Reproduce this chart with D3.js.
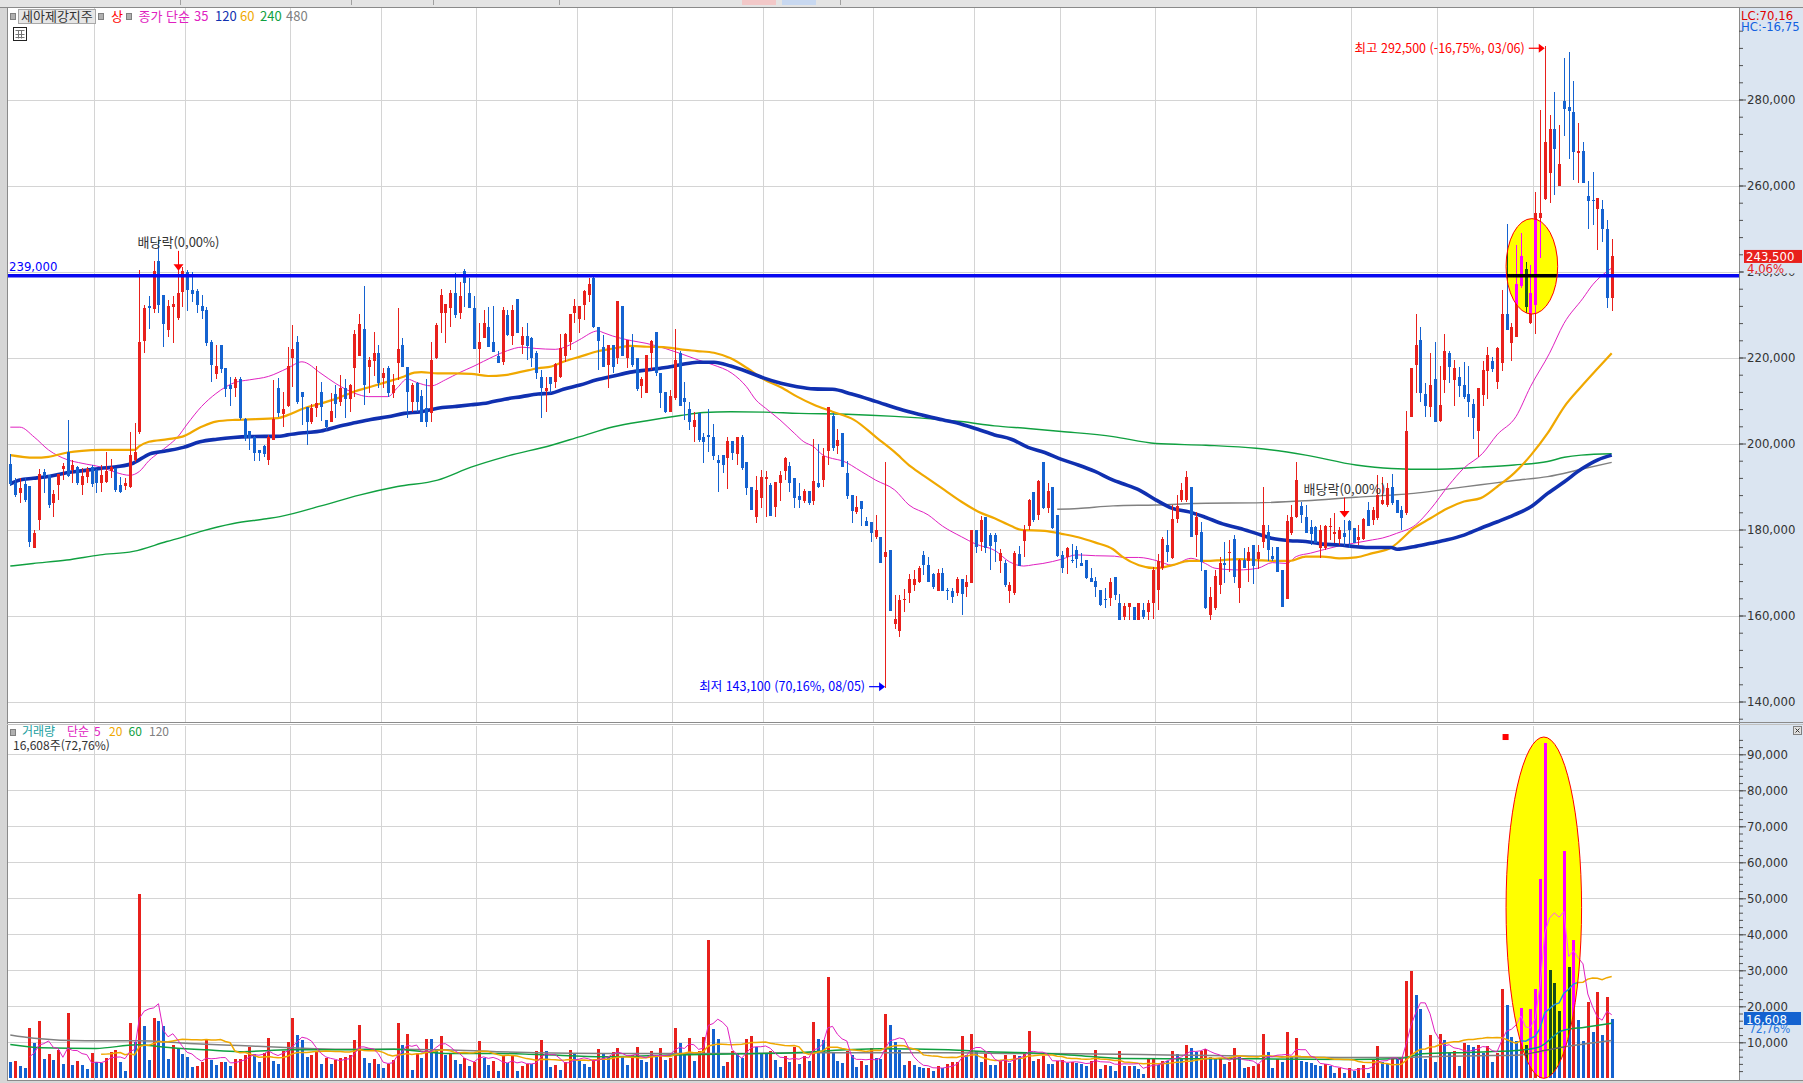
<!DOCTYPE html>
<html lang="ko">
<head>
<meta charset="UTF-8">
<title>세아제강지주 일봉</title>
<script src="https://cdn.jsdelivr.net/npm/d3@7/dist/d3.min.js"></script>
<style>
    html, body { margin: 0; padding: 0; background: #fff; overflow: hidden; }
    svg { display: block; }
</style>
</head>
<body>
<script>
    // daily candles, price in thousand won
    const opens = [
        195.2,190.7,188.4,190.6,190.1,175.6,182.1,193.3,192.7,186.2,
        190.4,194.0,198.1,193.8,194.6,190.4,192.3,194.6,193.8,190.9,
        191.0,193.7,194.3,190.3,190.1,189.8,196.2,202.7,223.9,232.0,
        231.3,242.4,234.5,226.5,231.8,229.1,235.3,240.0,235.8,235.5,
        232.0,231.0,223.7,216.2,222.9,217.5,213.6,212.8,214.9,205.8,
        202.8,201.6,198.5,199.4,196.2,200.9,212.8,206.9,208.7,220.0,
        223.6,211.9,208.6,204.9,208.3,211.9,205.5,204.9,211.5,209.7,
        212.9,210.3,217.5,220.3,226.6,217.9,219.3,221.1,215.3,217.6,
        211.8,218.8,222.9,217.9,209.7,214.1,211.1,208.2,207.0,219.9,
        230.4,230.4,231.4,235.1,230.4,240.1,235.0,231.4,221.9,224.5,
        227.1,223.6,220.4,219.0,230.0,225.0,233.6,222.9,225.0,224.5,
        221.1,215.5,212.1,215.4,214.4,215.4,220.4,223.5,230.4,228.9,
        232.2,234.5,238.5,227.0,222.4,218.3,222.9,220.0,232.0,220.0,
        222.5,220.0,213.4,211.8,221.0,225.9,216.3,211.9,207.4,210.5,
        221.0,210.5,208.0,203.9,207.0,201.6,202.0,201.6,196.2,197.3,
        196.7,200.6,197.6,201.6,195.6,190.0,183.0,187.4,191.8,190.4,
        185.3,190.9,193.6,194.8,191.9,187.8,186.7,189.0,186.7,190.9,
        191.4,198.3,206.5,199.4,202.4,193.2,188.0,184.1,186.6,182.0,
        181.8,178.2,178.2,173.7,175.2,158.0,156.5,163.6,165.3,167.0,
        167.9,174.1,171.8,169.7,165.7,169.8,166.0,165.6,165.2,168.4,
        166.6,167.6,179.9,177.2,183.0,178.7,178.7,172.7,172.3,165.6,
        165.3,174.3,177.4,180.8,188.8,183.4,195.7,184.9,189.9,183.4,
        174.1,173.7,172.9,175.2,172.3,172.9,168.7,168.0,165.9,163.8,
        164.0,169.0,162.8,159.6,162.0,162.0,158.9,161.3,160.9,162.8,
        165.9,171.0,176.4,173.3,182.4,186.9,186.9,189.8,178.7,179.5,
        170.6,160.1,161.7,167.1,172.3,174.5,177.9,166.3,172.9,172.7,
        176.4,173.1,177.2,179.5,173.9,176.0,170.6,163.8,179.1,183.0,
        185.5,183.0,180.5,180.5,175.8,175.8,180.7,179.0,177.7,179.1,
        182.0,180.3,177.6,177.7,184.5,182.2,182.6,185.9,185.7,190.0,
        186.9,184.6,183.8,206.2,218.3,224.1,211.5,208.4,215.0,205.3,
        214.8,221.0,214.8,215.4,213.6,211.5,209.3,202.8,211.3,216.9,
        219.2,214.4,218.8,230.1,223.3,224.8,236.6,240.5,228.0,232.2,
        252.4,256.8,263.0,273.1,260.0,279.7,278.2,277.2,267.5,268.1,
        257.6,256.6,254.5,254.5,250.0,233.8
    ];
    const highs = [
        197.6,191.9,191.9,191.9,190.1,179.9,194.0,194.0,192.7,189.2,
        193.0,195.5,205.5,196.1,194.8,194.2,194.6,195.0,194.0,195.0,
        198.1,196.3,194.4,192.3,191.9,202.7,204.7,240.4,232.2,234.2,
        242.5,247.3,234.5,233.4,234.2,244.8,241.1,240.3,239.9,235.9,
        234.5,231.8,224.1,222.9,223.0,217.5,215.5,215.5,215.5,205.9,
        202.8,201.7,198.6,199.6,202.0,214.8,215.2,212.0,222.5,227.6,
        225.0,211.9,208.6,209.3,218.0,214.4,205.5,211.8,213.6,215.9,
        214.9,213.8,226.5,230.1,236.6,220.2,226.0,222.9,217.5,218.0,
        216.2,231.4,224.5,217.9,214.0,214.4,212.4,214.9,223.7,228.1,
        235.9,232.4,235.7,239.6,237.6,240.5,238.6,234.2,228.1,231.0,
        231.7,232.0,221.4,231.7,231.1,232.2,233.6,227.2,228.1,224.7,
        221.4,217.1,215.5,215.4,218.8,225.5,225.8,230.1,233.6,232.0,
        235.8,238.5,239.0,227.0,225.2,222.9,222.9,233.1,232.0,224.1,
        225.5,220.0,215.4,220.6,224.1,225.9,216.3,211.9,212.4,226.6,
        221.4,214.2,209.7,207.4,207.0,202.4,208.0,204.5,197.3,197.3,
        201.6,200.6,201.6,202.0,195.6,190.0,192.5,193.8,193.5,190.7,
        191.1,193.5,196.9,195.8,191.9,190.9,189.4,189.0,201.0,199.9,
        198.9,208.6,207.0,203.3,202.4,196.0,188.0,187.8,186.6,182.8,
        181.8,183.4,178.2,195.7,175.2,164.8,164.8,166.1,169.6,170.6,
        171.6,175.0,173.7,169.8,170.8,171.0,166.3,166.3,169.0,168.4,
        169.4,179.9,180.0,183.1,183.0,179.1,179.1,175.4,172.9,167.9,
        174.9,176.2,181.1,187.0,188.8,191.5,195.7,190.7,189.9,183.4,
        174.9,176.0,176.6,176.2,174.5,172.9,171.0,169.0,165.9,166.3,
        168.7,169.0,165.0,162.8,163.0,162.0,163.0,162.8,163.6,171.3,
        174.4,178.2,179.9,185.7,188.0,190.7,193.7,189.8,184.1,181.8,
        170.6,166.7,170.6,173.7,177.2,177.6,178.7,173.1,175.6,176.0,
        176.4,176.4,190.0,181.0,176.0,176.0,170.6,183.4,185.7,195.8,
        186.5,185.7,182.2,180.8,181.0,181.0,182.6,183.8,180.5,182.2,
        182.2,180.3,181.0,182.6,186.5,185.3,192.7,192.3,190.7,192.9,
        186.9,185.5,207.6,217.6,230.1,227.2,214.1,221.0,223.7,218.0,
        225.5,221.6,219.4,217.7,219.0,218.0,210.3,212.8,219.3,222.5,
        220.2,222.5,235.7,251.0,228.0,246.2,248.9,242.1,241.5,258.5,
        277.6,292.5,276.4,281.8,274.1,289.6,291.1,284.2,274.5,270.2,
        261.0,263.2,257.0,256.6,252.0,247.5
    ];
    const lows = [
        190.1,187.6,186.1,186.5,176.0,175.6,179.9,188.4,184.9,183.0,
        186.9,191.5,192.3,190.7,190.4,188.0,190.7,190.0,188.4,188.8,
        190.8,191.9,188.8,188.4,189.2,189.6,195.8,202.2,221.0,226.6,
        230.3,230.4,222.4,224.7,223.4,228.7,231.8,230.7,233.0,230.3,
        228.9,222.7,214.4,214.9,216.5,210.9,208.7,210.9,205.5,200.6,
        198.5,196.0,196.0,196.9,195.0,200.9,206.2,203.9,208.6,213.2,
        209.3,204.3,199.6,204.5,206.2,205.3,203.2,204.9,205.9,208.7,
        205.9,207.4,210.9,220.3,209.0,211.7,215.8,212.8,212.8,210.9,
        210.5,214.8,217.9,205.9,207.4,207.4,204.9,203.9,204.9,219.6,
        225.6,223.4,227.0,229.3,228.9,231.8,231.4,221.9,216.3,224.5,
        222.4,221.3,218.8,218.3,224.9,222.9,225.8,220.8,219.4,217.9,
        214.9,205.9,207.4,211.7,212.8,215.2,219.0,221.7,228.0,225.8,
        228.7,233.0,226.9,217.0,217.7,212.8,216.3,218.5,220.4,217.5,
        217.9,212.3,210.5,211.8,217.1,215.7,208.2,207.0,207.4,210.1,
        208.8,205.5,203.1,200.4,200.4,195.4,198.0,196.2,188.8,193.2,
        189.4,196.2,195.0,193.8,188.0,184.5,181.4,184.9,183.0,183.2,
        183.0,186.7,191.5,188.8,184.9,184.9,186.1,185.7,185.7,189.6,
        190.0,195.0,198.3,197.6,194.5,187.2,181.6,183.6,180.8,180.8,
        177.0,177.7,172.3,143.1,161.1,156.8,155.1,160.9,162.8,165.6,
        167.5,169.4,167.7,166.1,165.7,165.8,163.6,163.0,164.5,160.1,
        164.4,167.5,174.5,174.9,174.6,170.6,172.5,170.0,166.7,163.0,
        164.8,171.4,173.7,180.0,181.8,182.2,184.7,183.8,180.1,173.7,
        169.8,169.7,172.1,171.0,171.4,168.4,167.9,164.4,162.2,161.7,
        162.1,163.6,158.9,158.9,158.9,158.9,158.9,159.3,158.9,159.3,
        161.3,170.6,172.5,173.1,181.4,186.5,186.5,178.3,173.7,170.4,
        161.4,158.9,161.3,165.0,167.5,170.2,167.5,162.8,171.0,167.9,
        167.3,170.7,175.6,172.7,172.7,170.2,162.0,163.8,178.7,182.6,
        181.4,179.1,176.4,176.8,173.3,175.2,177.6,176.8,176.4,176.2,
        175.6,176.8,176.4,177.6,180.7,181.0,182.2,185.7,185.3,185.7,
        183.8,179.9,183.4,206.2,211.7,209.7,206.2,206.2,204.9,204.9,
        211.8,214.0,208.7,210.9,210.3,206.2,201.0,196.9,208.7,210.3,
        216.7,212.6,216.9,226.4,219.3,224.8,236.1,230.3,227.8,225.5,
        243.1,256.6,256.0,257.8,260.0,271.4,266.1,261.3,260.5,260.5,
        249.9,250.8,244.9,246.9,231.4,230.9
    ];
    const closes = [
        190.6,188.0,189.6,186.9,177.2,179.1,192.9,192.5,185.7,188.3,
        192.9,194.7,192.4,194.9,190.7,192.4,194.0,190.6,190.9,192.7,
        193.7,194.5,189.2,188.8,190.9,197.3,198.1,223.7,231.6,231.4,
        240.2,232.2,227.8,232.0,232.4,235.1,240.2,235.7,234.8,232.2,
        230.9,223.4,218.3,218.1,217.3,212.6,212.6,214.9,205.9,201.2,
        201.2,197.9,197.9,197.6,201.4,205.6,207.0,208.0,218.0,222.0,
        209.7,210.9,204.9,208.3,209.4,208.4,203.9,207.6,209.3,212.9,
        210.3,213.6,225.5,227.9,213.5,219.4,221.0,214.0,216.5,211.8,
        213.6,222.0,217.9,211.9,213.5,209.7,204.9,204.9,219.4,227.6,
        234.5,232.4,235.1,230.0,234.2,237.4,231.4,221.9,223.6,228.1,
        222.4,221.3,218.8,231.0,225.3,231.0,225.8,225.0,222.7,219.8,
        216.3,212.8,212.8,213.8,218.5,222.1,225.5,230.1,232.0,232.0,
        235.5,237.0,227.0,223.9,217.9,222.9,217.9,233.1,220.4,224.1,
        218.3,212.7,215.0,220.6,223.9,216.3,211.8,207.4,211.1,219.4,
        208.8,209.7,204.9,205.5,200.8,200.4,201.4,197.2,195.4,195.0,
        200.6,197.9,201.6,194.4,189.7,184.5,189.2,192.1,192.3,183.2,
        191.0,192.7,196.7,190.9,187.4,186.9,189.0,186.1,191.3,190.0,
        197.1,208.6,198.9,200.7,194.5,187.8,184.4,185.2,184.7,180.8,
        179.1,179.9,172.3,174.8,161.1,159.2,163.6,163.9,168.6,168.5,
        171.1,171.8,167.7,166.6,169.9,165.8,165.6,164.2,168.6,165.0,
        167.7,179.9,176.0,182.1,175.8,176.2,177.2,174.5,167.1,167.0,
        174.5,171.5,179.9,186.9,182.1,191.3,184.9,188.9,180.3,173.9,
        171.0,175.6,172.8,173.1,171.6,168.7,167.9,166.6,162.5,163.6,
        167.9,164.8,158.9,162.2,162.8,158.9,162.8,159.7,163.0,170.6,
        172.7,177.9,174.8,182.4,185.5,189.2,192.3,178.3,183.0,172.5,
        161.7,164.4,169.2,172.1,171.7,174.8,169.0,172.9,171.0,174.8,
        171.4,174.8,181.0,175.2,173.1,170.2,162.0,182.0,183.0,191.4,
        183.4,179.3,178.9,176.8,179.9,180.9,180.9,179.5,180.0,178.3,
        180.0,176.8,178.2,182.5,180.8,184.5,188.0,186.9,189.7,186.1,
        183.8,182.6,203.0,217.6,222.9,211.8,208.7,213.6,204.9,208.9,
        221.6,217.9,217.6,213.4,210.9,209.7,205.9,212.8,217.1,220.6,
        217.3,222.3,230.1,226.4,227.2,237.0,243.6,231.8,235.0,253.5,
        253.5,270.2,273.1,268.5,265.0,277.8,277.4,267.9,268.1,260.5,
        256.5,256.5,257.0,250.0,233.8,243.5
    ];
    // volume, thousand shares
    const volumes = [
        4.6,4.8,3.5,3.0,14.0,9.7,16.0,5.4,6.8,5.1,
        7.9,4.0,18.1,3.7,4.8,3.7,2.6,6.9,4.4,4.2,
        5.7,7.2,7.9,4.6,1.9,15.4,10.2,51.2,14.5,5.1,
        16.8,16.0,14.4,5.4,9.3,8.5,6.8,6.0,3.2,3.5,
        4.4,10.9,5.1,3.7,4.6,4.5,3.5,5.4,5.5,6.5,
        8.8,6.7,4.6,6.9,11.3,4.8,4.0,7.6,10.2,16.8,
        11.9,10.6,6.0,6.5,7.6,4.0,5.6,4.0,5.1,5.6,
        6.0,6.5,10.6,14.8,5.7,4.2,5.4,4.0,3.0,4.0,
        5.1,15.4,9.3,12.3,2.3,6.9,5.7,10.9,10.8,8.1,
        11.8,6.5,6.8,5.1,4.0,5.7,3.5,4.4,10.4,5.7,
        3.7,4.8,2.1,6.5,4.2,6.5,2.1,3.5,4.0,3.9,
        7.6,10.6,7.6,3.2,3.7,2.3,4.6,7.9,6.8,5.1,
        4.0,3.2,5.1,8.1,6.9,6.0,7.3,8.4,6.0,3.7,
        6.5,8.7,5.1,4.4,7.6,6.0,8.4,5.1,5.7,14.0,
        9.8,6.8,11.2,4.8,7.6,11.5,38.4,13.7,10.9,3.4,
        4.5,7.6,6.8,5.6,10.9,11.8,8.7,6.8,6.7,7.6,
        5.1,3.1,6.2,4.5,8.7,4.0,6.2,4.8,15.6,10.9,
        10.6,28.1,7.0,4.8,4.3,7.6,6.5,3.1,4.8,3.7,
        8.4,5.6,5.4,17.9,14.8,10.1,7.9,3.7,4.8,3.6,
        3.1,2.9,3.0,2.0,3.4,2.9,4.0,4.4,4.6,11.8,
        6.5,12.3,7.6,4.5,6.8,3.7,3.6,4.8,6.5,4.3,
        6.5,6.2,6.8,13.1,4.8,5.4,6.2,4.0,3.9,4.8,
        5.1,4.3,4.5,4.2,4.0,3.5,4.9,8.0,2.6,3.7,
        3.3,2.1,7.7,3.3,3.5,3.3,2.6,1.2,5.4,5.5,
        3.7,4.9,4.8,7.7,6.8,5.5,9.3,8.3,7.4,7.7,
        8.1,5.8,5.4,5.5,4.0,4.4,8.5,6.0,3.0,3.1,
        3.3,4.0,12.3,7.4,3.0,5.4,4.4,13.0,6.1,11.3,
        4.9,4.4,4.2,3.7,3.5,4.0,3.5,1.6,2.8,1.6,
        3.0,2.1,3.0,3.7,1.6,5.4,9.1,4.4,4.0,5.4,
        5.3,5.6,27.1,29.7,23.2,19.3,5.4,12.0,4.6,12.3,
        10.7,7.0,7.7,3.5,9.8,9.3,8.8,9.2,7.0,9.1,
        4.4,7.0,24.7,20.4,11.5,10.5,19.5,9.3,19.3,24.7,
        55.3,93.2,30.1,26.4,18.8,63.1,30.8,38.3,16.3,10.4,
        21.3,13.0,24.1,11.9,22.7,16.608
    ];

    // first trading day of each month (candle index)
    const monthStarts = [18, 37, 59, 78, 98, 119, 139, 158, 181, 202, 220, 240, 261, 281, 299, 319];
    const priceTicks = [140, 160, 180, 200, 220, 240, 260, 280];
    const volumeTicks = [10, 20, 30, 40, 50, 60, 70, 80, 90];

    // moving averages: [candle index, value]
    const ma35 = [[0,203.8],[2,203.8],[5,201.5],[8,198.5],[12,196.2],[15,195.4],[19,194.5],[22,193.3],[25,192.6],[27,193.5],[29,196.0],[31,197.8],[33,199.5],[35,201.5],[37,204.5],[40,208.6],[43,211.6],[47,214.2],[50,214.8],[54,215.6],[58,217.5],[61,219.0],[65,216.3],[68,214.0],[72,211.7],[75,210.9],[79,210.9],[81,213.0],[83,215.0],[85,214.2],[88,213.4],[91,214.8],[94,216.5],[97,218.0],[101,220.2],[104,221.6],[107,222.4],[110,222.1],[114,221.9],[117,222.9],[119,224.1],[123,226.2],[124,225.8],[126,225.0],[130,223.9],[133,223.3],[137,222.1],[140,221.0],[144,219.4],[147,218.3],[151,216.3],[154,213.2],[156,210.1],[158,208.2],[161,205.5],[164,202.4],[166,200.4],[168,199.3],[170,197.3],[172,196.5],[174,196.0],[178,193.5],[181,191.5],[185,189.2],[188,185.7],[192,183.4],[195,180.8],[199,178.3],[202,176.6],[206,175.1],[209,172.5],[212,171.5],[214,171.8],[216,172.1],[220,173.1],[223,174.1],[227,173.9],[231,173.8],[233,173.5],[236,173.5],[240,172.7],[243,171.7],[247,173.3],[250,172.1],[252,171.0],[257,170.6],[261,171.0],[264,172.3],[267,172.1],[269,173.7],[272,174.5],[278,176.2],[281,176.8],[285,177.6],[287,178.0],[290,179.1],[294,181.1],[297,184.6],[301,190.4],[304,194.2],[308,197.7],[311,202.0],[315,206.3],[318,213.2],[322,221.0],[325,227.9],[329,233.8],[331,236.9],[334,240.0],[335,240.8]];
    const ma60 = [[0,197.3],[5,196.7],[8,196.9],[12,197.9],[15,198.3],[19,198.5],[26,198.5],[27,199.4],[29,200.4],[33,201.0],[36,201.6],[40,203.9],[43,205.1],[47,205.5],[50,205.6],[56,205.9],[58,206.6],[61.5,208.2],[65,209.3],[68.4,210.5],[72,212.1],[75.4,213.2],[79,214.4],[82.4,215.6],[84.5,216.5],[86,216.6],[89.4,216.3],[93,216.3],[96.4,216.2],[100,215.7],[103.4,215.9],[107,216.7],[110.4,217.5],[113.2,217.9],[115.7,219.0],[119.2,220.2],[122.7,221.4],[126.2,222.1],[129.7,222.7],[133.2,222.5],[136.7,222.4],[140.2,221.9],[143.7,221.5],[147.2,221.1],[150.7,219.8],[154.2,217.5],[157.7,214.9],[161.2,213.1],[164.6,210.9],[168.1,209.0],[172,207.4],[176.5,205.5],[181.4,201.2],[184.9,198.1],[188.4,194.6],[191.9,191.9],[195.4,189.2],[198.9,186.5],[202.4,184.2],[205.9,182.6],[209.4,180.8],[211.5,179.9],[216.4,179.7],[219.9,179.0],[223.4,178.2],[226.9,177.0],[230.7,175.4],[232.6,173.7],[236.1,171.7],[239.6,171.0],[243.1,171.7],[246.6,172.7],[250.1,172.7],[253.6,172.9],[257.1,173.1],[260.6,172.9],[264.1,172.7],[267.6,172.7],[271,173.7],[274.5,173.7],[278,173.3],[281.5,173.5],[285,174.5],[288.9,175.8],[290.1,176.8],[293.6,180.3],[297.1,182.6],[300.6,184.9],[304.1,186.5],[307.6,187.3],[311.1,190.0],[314.6,193.1],[318.1,197.3],[321.6,202.4],[325.1,208.6],[328.6,213.2],[332.1,217.5],[335,221.0]];
    const ma120 = [[0,190.6],[2,191.5],[4.8,191.9],[8.3,192.4],[11.8,193.2],[15.3,193.7],[18.8,194.2],[22.2,194.6],[25.7,195.4],[29.2,197.6],[32.7,198.3],[36.2,199.1],[39.7,200.4],[43.2,201.0],[46.7,201.4],[50.1,201.6],[56.4,201.7],[58,202.0],[61.5,202.5],[65,202.9],[68.4,203.9],[72,204.8],[75.4,205.6],[79,206.2],[82.4,207.0],[86,207.4],[89.4,208.2],[93,208.6],[96.4,209.0],[100,209.5],[103.4,210.3],[107,210.9],[110.4,211.5],[113.2,211.7],[115.7,212.6],[119.2,213.6],[122.7,214.8],[126.2,215.7],[129.7,216.6],[133.2,217.1],[136.7,217.6],[140.2,218.3],[143.7,218.9],[147.2,218.9],[150.7,218.0],[154.2,216.7],[157.7,215.2],[161.2,214.0],[164.6,213.2],[168.1,212.7],[172,212.6],[176,211.5],[181,209.8],[186,208.0],[190,206.8],[195,205.5],[199,204.5],[202.4,203.3],[205.9,202.0],[209.4,201.0],[212.9,199.1],[216.4,197.9],[219.9,196.3],[223.4,195.0],[226.9,193.5],[230.7,191.5],[232.6,190.7],[236.1,189.2],[239.6,186.9],[243.1,184.9],[246.6,184.1],[250.1,182.8],[253.6,181.3],[257.1,180.3],[260.6,179.1],[264.1,177.9],[267.6,177.4],[271,177.2],[274.5,176.6],[278,176.4],[281.5,176.0],[285,175.8],[288.9,175.8],[290.1,175.4],[293.6,176.0],[297.1,176.8],[300.6,177.6],[304.1,178.7],[307.6,180.3],[311.1,181.8],[314.6,183.4],[318.1,185.3],[321.6,188.4],[325.1,191.1],[328.6,194.0],[332.1,196.2],[335,197.3]];
    const ma240 = [[0,171.5],[4.8,172.1],[11.8,172.9],[18.8,174.1],[25.7,174.9],[32.7,177.2],[36.2,178.3],[39.7,179.5],[46.7,181.4],[53.6,182.5],[56.4,183.0],[65,185.5],[73,188.0],[81,190.0],[89.4,191.5],[96.4,194.5],[103.4,196.9],[113.2,199.6],[119.2,201.6],[126.2,203.9],[133.2,205.3],[140.2,206.5],[145,207.2],[150.7,207.4],[157.7,207.3],[165,207.0],[175,206.8],[185,206.3],[195,205.5],[198.9,205.1],[205.9,204.1],[212.9,203.5],[219.9,202.8],[230.7,201.6],[239.6,200.0],[250.1,199.6],[260.6,198.9],[271,197.3],[281.5,195.0],[288.9,194.2],[297.1,194.0],[307.6,194.5],[314.6,195.0],[321.6,195.8],[325.1,196.8],[328.6,197.3],[335,197.6]];
    const ma480 = [[219,184.7],[223.4,184.9],[230.7,185.5],[239.6,185.7],[250.1,186.1],[260.6,186.2],[271,186.7],[281.5,187.5],[288.9,188.0],[293.6,188.4],[300.6,189.4],[307.6,190.4],[314.6,191.4],[321.6,192.3],[328.6,194.0],[335,195.6]];
    const volMa60 = [[0,9.4],[6.5,8.5],[17.9,8.3],[26.5,9.3],[33.7,8.5],[40.9,7.9],[48,7.4],[58.8,7.9],[69.5,7.9],[80.3,8.1],[91,6.9],[101.8,6.9],[110.3,6.6],[124.6,6.0],[139,6.5],[153.3,6.8],[164,7.1],[174.8,7.9],[181.9,8.2],[196.3,7.9],[204.9,7.4],[217.8,6.8],[222.6,6.4],[232.3,5.5],[242,5.4],[261.4,5.4],[280.9,5.2],[290.6,5.5],[295.4,6.8],[305.2,7.2],[314.9,7.7],[319.7,8.6],[324.6,13.2],[329.4,14.2],[335,15.3]];
    const volMa120 = [[0,12.0],[5,11.1],[15.8,10.4],[26.5,10.4],[37.3,9.7],[48,9.1],[58.8,8.5],[69.5,8.1],[80.3,8.1],[91,7.9],[101.8,7.4],[110,7.1],[124.6,6.9],[153.3,6.9],[167.6,7.1],[196.3,7.1],[210.6,6.9],[222.6,6.8],[242,6.5],[261.4,6.1],[280.9,5.8],[290.6,5.8],[300.3,6.1],[310,6.3],[315.8,6.5],[319.7,7.4],[324.6,8.6],[335,10.5]];

    // reference level and notes
    const levelPrice = 239.0;
    const exDivDays = [35, 279];
    const highDay = 321, lowDay = 183;
    const highNote = '최고 292,500 (-16,75%, 03/06)';
    const lowNote = '최저 143,100 (70,16%, 08/05)';
    const exDivNote = '배당락(0,00%)';
    const priceHilite = {day: 318.3, price: 241.2, days: 5.4, span: 11.1};
    const volHilite = {day: 320.8, vol: 47.4, days: 7.9, span: 47.4};

    const width = 1803, height = 1083;
    const N = closes.length;
    const UP = '#e8201c', DOWN = '#1462d0';
    const MAG = '#e020c0', NAVY = '#1030b0', ORANGE = '#f0a800', GREEN = '#10a040', GRAY = '#808080';
    const NUMFONT = '"Liberation Sans Narrow", "DejaVu Sans Condensed", "Liberation Sans", sans-serif';
    const KRFONT = '"Noto Sans CJK KR", "Noto Sans", sans-serif';

    const plotL = 7.5, plotR = 1739;
    const pTop = 7.5, pBottom = 722;
    const vTop = 725.5, vBottom = 1080;

    const x = d3.scaleLinear().domain([0, N - 1]).range([10.3, 1611.7]);
    const yP = d3.scaleLinear().domain([140, 280]).range([701.5, 99.5]);
    const yV = d3.scaleLinear().domain([0, 90]).range([1078.3, 754.3]);
    const fmt = function (v) { return d3.format(',')(Math.round(v * 1000)); };

    const days = d3.range(N).map(function (i) {
        return {i: i, o: opens[i], h: highs[i], l: lows[i], c: closes[i], v: volumes[i],
            vUp: i > 0 && volumes[i] >= volumes[i - 1]};
    });

    const svg = d3.select('body').append('svg')
        .attr('width', width)
        .attr('height', height)
        .style('font-family', KRFONT);

    // frame
    svg.append('rect').attr('width', width).attr('height', height).attr('fill', '#fff');
    svg.append('rect').attr('x', 0).attr('y', 0).attr('width', width).attr('height', 7).attr('fill', '#e4e4e4');
    [[742, 776, '#f2c8c8'], [782, 816, '#c8d8f0']].forEach(function (t) {
        svg.append('rect').attr('x', t[0]).attr('y', 0).attr('width', t[1] - t[0]).attr('height', 5).attr('fill', t[2]);
    });
    [180, 351, 433, 559, 840].forEach(function (d) {
        svg.append('line').attr('x1', d + 0.5).attr('x2', d + 0.5).attr('y1', 0).attr('y2', 5).attr('stroke', '#a0a0a0');
    });
    svg.append('rect').attr('x', 0).attr('y', 7).attr('width', 7).attr('height', height).attr('fill', '#d6d6d6');
    svg.append('rect').attr('x', plotR).attr('y', 7).attr('width', width - plotR).attr('height', height - 7).attr('fill', '#dbe5f1');

    const defs = svg.append('defs');
    defs.append('clipPath').attr('id', 'clipP').append('rect')
        .attr('x', plotL).attr('y', pTop).attr('width', plotR - plotL).attr('height', pBottom - pTop);
    defs.append('clipPath').attr('id', 'clipV').append('rect')
        .attr('x', plotL).attr('y', vTop).attr('width', plotR - plotL).attr('height', vBottom - vTop);
    defs.append('clipPath').attr('id', 'clipEP').append('ellipse')
        .attr('cx', x(priceHilite.day)).attr('cy', yP(priceHilite.price))
        .attr('rx', x(priceHilite.days) - x(0)).attr('ry', yP(0) - yP(priceHilite.span));
    defs.append('clipPath').attr('id', 'clipEV').append('ellipse')
        .attr('cx', x(volHilite.day)).attr('cy', yV(volHilite.vol))
        .attr('rx', x(volHilite.days) - x(0)).attr('ry', yV(0) - yV(volHilite.span));

    // grid
    const grid = svg.append('g').attr('stroke', '#d4d4d4').attr('shape-rendering', 'crispEdges');
    grid.selectAll('line.hp').data(priceTicks).enter().append('line')
        .attr('x1', plotL).attr('x2', plotR)
        .attr('y1', function (d) { return Math.round(yP(d)) + 0.5; })
        .attr('y2', function (d) { return Math.round(yP(d)) + 0.5; });
    grid.selectAll('line.hv').data(volumeTicks).enter().append('line')
        .attr('x1', plotL).attr('x2', plotR)
        .attr('y1', function (d) { return Math.round(yV(d)) + 0.5; })
        .attr('y2', function (d) { return Math.round(yV(d)) + 0.5; });
    monthStarts.forEach(function (m) {
        const gx = Math.round(x(m - 0.5)) + 0.5;
        grid.append('line').attr('x1', gx).attr('x2', gx).attr('y1', pTop).attr('y2', pBottom);
        grid.append('line').attr('x1', gx).attr('x2', gx).attr('y1', vTop).attr('y2', vBottom);
    });

    // candles
    function drawCandles(g, up, down, list) {
        const c = g.selectAll('g.candle').data(list).enter().append('g')
            .attr('shape-rendering', 'crispEdges');
        c.append('line')
            .attr('x1', function (d) { return Math.round(x(d.i)) + 0.5; })
            .attr('x2', function (d) { return Math.round(x(d.i)) + 0.5; })
            .attr('y1', function (d) { return yP(d.h); })
            .attr('y2', function (d) { return yP(d.l); })
            .attr('stroke', function (d) { return d.c >= d.o ? up : down; });
        c.append('rect')
            .attr('x', function (d) { return Math.round(x(d.i)) - 1; })
            .attr('width', 3)
            .attr('y', function (d) { return yP(Math.max(d.o, d.c)); })
            .attr('height', function (d) { return Math.max(1, Math.abs(yP(d.o) - yP(d.c))); })
            .attr('fill', function (d) { return d.c >= d.o ? up : down; });
    }

    function maLine(scale, pts, color, w, g) {
        g.append('path')
            .datum(pts)
            .attr('fill', 'none')
            .attr('stroke', color)
            .attr('stroke-width', w)
            .attr('d', d3.line()
                .x(function (d) { return x(d[0]); })
                .y(function (d) { return scale(d[1]); })
                .curve(d3.curveMonotoneX));
    }

    // moving averages sit under the candles
    const gp = svg.append('g').attr('clip-path', 'url(#clipP)');
    maLine(yP, ma240, GREEN, 1.4, gp);
    maLine(yP, ma480, GRAY, 1.4, gp);
    maLine(yP, ma35, MAG, 1, gp);
    maLine(yP, ma60, ORANGE, 2.2, gp);
    maLine(yP, ma120, NAVY, 3.6, gp);
    drawCandles(gp.append('g'), UP, DOWN, days);

    // horizontal level line
    gp.append('line').attr('x1', plotL).attr('x2', plotR)
        .attr('y1', yP(levelPrice)).attr('y2', yP(levelPrice))
        .attr('stroke', '#0808f0').attr('stroke-width', 3.4);
    svg.append('text').attr('x', 9).attr('y', yP(levelPrice) - 5)
        .attr('fill', '#0000ff').style('font-family', NUMFONT).style('font-size', '13px')
        .text(fmt(levelPrice));

    // highlight ellipse on price pane
    const ep = svg.append('g');
    ep.append('ellipse')
        .attr('cx', x(priceHilite.day)).attr('cy', yP(priceHilite.price))
        .attr('rx', x(priceHilite.days) - x(0)).attr('ry', yP(0) - yP(priceHilite.span))
        .attr('fill', '#ffff00');
    const epIn = ep.append('g').attr('clip-path', 'url(#clipEP)');
    drawCandles(epIn, '#ff00ff', '#1a5a1a', days.filter(function (d) { return d.i > 308 && d.i < 326; }));
    epIn.append('line').attr('x1', plotL).attr('x2', plotR)
        .attr('y1', yP(levelPrice)).attr('y2', yP(levelPrice))
        .attr('stroke', '#000').attr('stroke-width', 3.4);
    ep.append('ellipse')
        .attr('cx', x(priceHilite.day)).attr('cy', yP(priceHilite.price))
        .attr('rx', x(priceHilite.days) - x(0)).attr('ry', yP(0) - yP(priceHilite.span))
        .attr('fill', 'none').attr('stroke', '#ff0000').attr('stroke-width', 1);

    // ex-dividend markers
    exDivDays.forEach(function (i) {
        const tipY = yP(highs[i]) + (i === 35 ? 20 : -2.5);
        const cx = Math.round(x(i)) + 0.5;
        svg.append('line').attr('x1', cx).attr('x2', cx).attr('y1', tipY - 20).attr('y2', tipY - 6)
            .attr('stroke', '#ff0000');
        svg.append('path')
            .attr('d', 'M' + (cx - 5) + ',' + (tipY - 6.5) + 'L' + (cx + 5) + ',' + (tipY - 6.5) + 'L' + cx + ',' + tipY + 'Z')
            .attr('fill', '#ff0000');
        svg.append('text').attr('x', cx).attr('y', tipY - 23.5).attr('text-anchor', 'middle')
            .attr('fill', '#333').style('font-size', '13px').text(exDivNote);
    });

    // high / low notes
    function note(i, price, txt, color, dy) {
        const tx = x(i), ty = yP(price) + dy;
        svg.append('line').attr('x1', tx - 16).attr('x2', tx - 5).attr('y1', ty).attr('y2', ty)
            .attr('stroke', color).attr('stroke-width', 1.2);
        svg.append('path')
            .attr('d', 'M' + (tx - 6) + ',' + (ty - 4.5) + 'L' + tx + ',' + ty + 'L' + (tx - 6) + ',' + (ty + 4.5) + 'Z')
            .attr('fill', color);
        svg.append('text').attr('x', tx - 20).attr('y', ty + 4.5).attr('text-anchor', 'end')
            .attr('fill', color).style('font-size', '12.5px').text(txt);
    }
    note(highDay, highs[highDay], highNote, '#ff0000', 2.5);
    note(lowDay, lows[lowDay], lowNote, '#0000ff', -1.5);

    // volume pane
    const gv = svg.append('g').attr('clip-path', 'url(#clipV)');
    function drawVolume(g, up, down, list) {
        g.selectAll('rect.vb').data(list).enter().append('rect')
            .attr('shape-rendering', 'crispEdges')
            .attr('x', function (d) { return Math.round(x(d.i)) - 1; })
            .attr('width', 3)
            .attr('y', function (d) { return yV(d.v); })
            .attr('height', function (d) { return yV(0) - yV(d.v); })
            .attr('fill', function (d) { return d.vUp ? up : down; });
    }
    drawVolume(gv, UP, DOWN, days);

    function rollMean(n) {
        return d3.range(n - 1, N).map(function (i) { return [i, d3.mean(volumes.slice(i - n + 1, i + 1))]; });
    }
    const volMa5 = rollMean(5), volMa20 = rollMean(20);
    function volLines(g, cols) {
        maLine(yV, volMa120, cols[3], 1.5, g);
        maLine(yV, volMa60, cols[2], 1.5, g);
        g.append('path').datum(volMa20).attr('fill', 'none').attr('stroke', cols[1]).attr('stroke-width', 1.5)
            .attr('d', d3.line().x(function (d) { return x(d[0]); }).y(function (d) { return yV(d[1]); }));
        g.append('path').datum(volMa5).attr('fill', 'none').attr('stroke', cols[0]).attr('stroke-width', 1)
            .attr('d', d3.line().x(function (d) { return x(d[0]); }).y(function (d) { return yV(d[1]); }));
    }
    volLines(gv, [MAG, ORANGE, GREEN, GRAY]);

    const ev = svg.append('g');
    ev.append('ellipse')
        .attr('cx', x(volHilite.day)).attr('cy', yV(volHilite.vol))
        .attr('rx', x(volHilite.days) - x(0)).attr('ry', yV(0) - yV(volHilite.span))
        .attr('fill', '#ffff00');
    const evIn = ev.append('g').attr('clip-path', 'url(#clipEV)');
    drawVolume(evIn, '#ff00ff', '#1a4d1a', days.filter(function (d) { return d.i > 305; }));
    volLines(evIn, ['#ff50ff', '#2090e0', '#109090', '#606060']);
    ev.append('ellipse')
        .attr('cx', x(volHilite.day)).attr('cy', yV(volHilite.vol))
        .attr('rx', x(volHilite.days) - x(0)).attr('ry', yV(0) - yV(volHilite.span))
        .attr('fill', 'none').attr('stroke', '#ff0000').attr('stroke-width', 1);
    svg.append('rect').attr('x', x(312.8) - 3).attr('y', yV(94.8) - 3).attr('width', 6).attr('height', 6)
        .attr('fill', '#ff0000');

    // pane borders
    const border = svg.append('g').attr('fill', 'none').attr('shape-rendering', 'crispEdges');
    border.append('line').attr('x1', 0).attr('x2', width).attr('y1', 7.5).attr('y2', 7.5).attr('stroke', '#8a8a8a');
    border.append('line').attr('x1', 7.5).attr('x2', 7.5).attr('y1', 7).attr('y2', height).attr('stroke', '#8a8a8a');
    border.append('line').attr('x1', plotR + 0.5).attr('x2', plotR + 0.5).attr('y1', 7).attr('y2', height).attr('stroke', '#8a8a8a');
    border.append('line').attr('x1', 7).attr('x2', width).attr('y1', pBottom + 0.5).attr('y2', pBottom + 0.5).attr('stroke', '#8a8a8a');
    border.append('line').attr('x1', 7).attr('x2', width).attr('y1', vTop - 1).attr('y2', vTop - 1).attr('stroke', '#c0c0c0');
    border.append('line').attr('x1', 7).attr('x2', width).attr('y1', vBottom + 0.5).attr('y2', vBottom + 0.5).attr('stroke', '#8a8a8a');
    svg.append('rect').attr('x', 7).attr('y', vBottom + 1).attr('width', width).attr('height', height - vBottom).attr('fill', '#d6d6d6');

    // right axes
    function styleAxis(g) {
        g.select('.domain').remove();
        g.attr('font-family', NUMFONT).attr('font-size', 13).attr('color', '#505050');
        g.selectAll('text').attr('fill', '#333');
    }
    svg.append('g').attr('transform', 'translate(' + plotR + ',0)')
        .call(d3.axisRight(yP).tickValues(d3.range(136, 297, 4)).tickSize(4).tickFormat(''))
        .call(styleAxis);
    svg.append('g').attr('transform', 'translate(' + plotR + ',0)')
        .call(d3.axisRight(yP).tickValues(priceTicks).tickSize(7).tickPadding(1).tickFormat(fmt))
        .call(styleAxis);
    svg.append('g').attr('transform', 'translate(' + plotR + ',0)')
        .call(d3.axisRight(yV).tickValues(d3.range(2, 96, 2)).tickSize(4).tickFormat(''))
        .call(styleAxis);
    svg.append('g').attr('transform', 'translate(' + plotR + ',0)')
        .call(d3.axisRight(yV).tickValues(volumeTicks).tickSize(7).tickPadding(1).tickFormat(fmt))
        .call(styleAxis);

    // last price / volume tags
    const lastY = yP(closes[N - 1]);
    svg.append('rect').attr('x', 1744).attr('y', lastY - 6.5).attr('width', 58).attr('height', 13).attr('fill', '#e8201c');
    svg.append('text').attr('x', 1746).attr('y', lastY + 5).attr('fill', '#fff')
        .style('font-family', NUMFONT).style('font-size', '13px').text(fmt(closes[N - 1]));
    svg.append('rect').attr('x', 1744).attr('y', lastY + 7).attr('width', 58).attr('height', 10).attr('fill', '#dbe5f1');
    svg.append('text').attr('x', 1747).attr('y', lastY + 16.5).attr('fill', '#e8201c')
        .style('font-family', NUMFONT).style('font-size', '13px').text('4,06%');

    const lastV = yV(volumes[N - 1]);
    svg.append('rect').attr('x', 1744).attr('y', lastV - 6.5).attr('width', 57).attr('height', 13).attr('fill', '#1462d0');
    svg.append('text').attr('x', 1746).attr('y', lastV + 5).attr('fill', '#fff')
        .style('font-family', NUMFONT).style('font-size', '13px').text(fmt(volumes[N - 1]));
    svg.append('text').attr('x', 1749).attr('y', lastV + 14.5).attr('fill', '#2a78e0')
        .style('font-family', NUMFONT).style('font-size', '12px').text('72,76%');

    svg.append('text').attr('x', 1741).attr('y', 19.5).attr('fill', '#e00000')
        .style('font-family', NUMFONT).style('font-size', '13px').text('LC:70,16');
    svg.append('text').attr('x', 1741).attr('y', 31).attr('fill', '#1060e0')
        .style('font-family', NUMFONT).style('font-size', '13px').text('HC:-16,75');

    // close box on volume pane
    svg.append('rect').attr('x', 1793.5).attr('y', 726.5).attr('width', 8).attr('height', 8)
        .attr('fill', '#e0e0e0').attr('stroke', '#808080');
    svg.append('path').attr('d', 'M1795.5,728.5L1799.5,732.5M1799.5,728.5L1795.5,732.5').attr('stroke', '#333');

    // legends
    function square(px, py) {
        svg.append('rect').attr('x', px + 0.5).attr('y', py + 0.5).attr('width', 5).attr('height', 6)
            .attr('fill', '#b0b0b0').attr('stroke', '#808080');
    }
    square(10, 13);
    svg.append('rect').attr('x', 18.5).attr('y', 9.5).attr('width', 77).attr('height', 14)
        .attr('fill', '#e6e6e6').attr('stroke', '#a8a8a8');
    svg.append('text').attr('x', 21).attr('y', 21).attr('fill', '#333').style('font-size', '13px').text('세아제강지주');
    square(98, 13);
    square(126, 13);
    const priceLegend = [
        ['상', '#ff0000', 111], ['종가 단순', MAG, 138.5], ['35', MAG, 194], ['120', NAVY, 215],
        ['60', ORANGE, 240], ['240', GREEN, 260], ['480', GRAY, 286]
    ];
    svg.selectAll('text.lgp').data(priceLegend).enter().append('text')
        .attr('x', function (d) { return d[2]; }).attr('y', 21)
        .attr('fill', function (d) { return d[1]; })
        .style('font-size', '13px')
        .text(function (d) { return d[0]; });
    // table icon
    svg.append('rect').attr('x', 13.5).attr('y', 27.5).attr('width', 13).attr('height', 13).attr('fill', '#fff').attr('stroke', '#222');
    svg.append('path').attr('d', 'M15.5,30.5H24.5M15.5,34.5H24.5M15.5,37.5H24.5M18.5,30.5V38.5M21.5,30.5V38.5')
        .attr('stroke', '#777').attr('fill', 'none');

    square(10, 729);
    const volLegend = [
        ['거래량', '#20a0a0', 22], ['단순', MAG, 67], ['5', MAG, 94], ['20', ORANGE, 109],
        ['60', GREEN, 128.5], ['120', GRAY, 149]
    ];
    svg.selectAll('text.lgv').data(volLegend).enter().append('text')
        .attr('x', function (d) { return d[2]; }).attr('y', 735.5)
        .attr('fill', function (d) { return d[1]; })
        .style('font-size', '12px')
        .text(function (d) { return d[0]; });
    svg.append('text').attr('x', 13).attr('y', 750).attr('fill', '#333').style('font-size', '12px')
        .text(fmt(volumes[N - 1]) + '주(72,76%)');
</script>
</body>
</html>
